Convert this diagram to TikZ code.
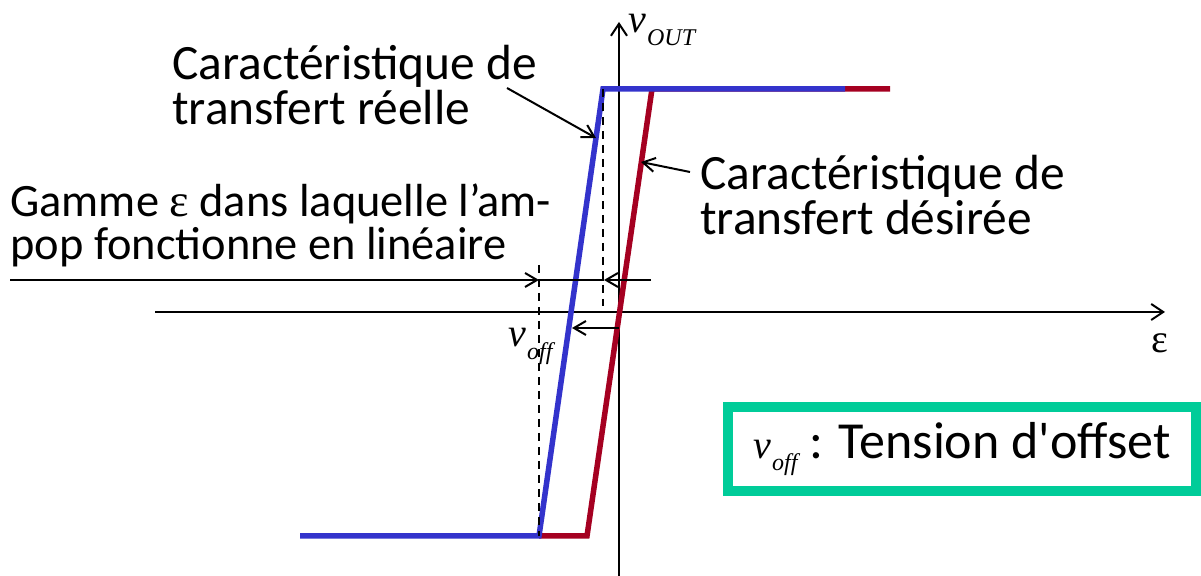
\documentclass[tikz,border=0pt]{standalone}
\usepackage{fontspec}
\setmainfont{Carlito}[Ligatures=TeXOff]
\newfontfamily\tnr{Liberation Serif}
\usepackage{tikz}
\usetikzlibrary{arrows.meta, positioning}
\definecolor{realblue}{HTML}{3333CC}
\definecolor{wantred}{HTML}{A50021}
\definecolor{boxgreen}{HTML}{00CC99}
\newcommand{\vlab}[1]{{\tnr\itshape v\kern0.5pt\raisebox{-0.32em}{\fontsize{12}{12}\selectfont #1}}}

\begin{document}
\begin{tikzpicture}[
      x=0.5pt, y=-0.5pt,
      txt/.style={
          font=\fontsize{24.7}{22.5}\selectfont,
          align=left,
          inner sep=0pt,
          anchor=north west
      },
      symb/.style={font=\fontsize{20}{20}\selectfont, inner sep=0pt},
      axis/.style={-{Straight Barb[length=6pt, width=8pt]}, line width=1pt},
      arrow/.style={-{Straight Barb[length=6pt, width=7pt]}, line width=1pt},
      guide/.style={dash pattern=on 4pt off 3pt, line width=1pt},
      curve/.style={line width=2.75pt, line join=miter}
  ]
  \useasboundingbox (0,0) rectangle (1201,576);

  % ══════════════════════════════
  % AXES
  % ══════════════════════════════
  \coordinate (ybot) at (619,576);
  \coordinate (ytop) at (619,22);
  \coordinate (xleft) at (155,312);
  \coordinate (xright) at (1165,312);

  \draw[axis] (ybot) -- (ytop);
  \draw[axis] (xleft) -- (xright);

  \node[symb, anchor=base west] (vout) at (628,33) {\vlab{OUT}};
  \node[symb] (eps) at (1160,343) {\tnr ε};

  % ══════════════════════════════
  % CARACTÉRISTIQUES
  % ══════════════════════════════
  \coordinate (rlow) at (539,536);
  \coordinate (rknee) at (587,536);
  \coordinate (rtop) at (652,89);
  \coordinate (rend) at (890,89);

  \coordinate (blow) at (300,536);
  \coordinate (bknee) at (539,536);
  \coordinate (btop) at (603,89);
  \coordinate (bend) at (845,89);

  \draw[curve, wantred] (rlow) -- (rknee) -- (rtop) -- (rend);
  \draw[curve, realblue] (blow) -- (bknee) -- (btop) -- (bend);

  % ══════════════════════════════
  % REPÈRES POINTILLÉS
  % ══════════════════════════════
  \coordinate (dlow) at (539,265);
  \coordinate (dhigh) at (603,306);

  \draw[guide] (dlow) -- (bknee);
  \draw[guide] (btop) -- (dhigh);

  % ══════════════════════════════
  % GAMME LINÉAIRE
  % ══════════════════════════════
  \coordinate (gleft) at (10,280);
  \coordinate (ga) at (539,280);
  \coordinate (gb) at (604,280);
  \coordinate (gright) at (651,280);

  \draw[arrow] (gleft) -- (ga);
  \draw[line width=1pt] (ga) -- (gb);
  \draw[arrow] (gright) -- (gb);

  % ══════════════════════════════
  % TENSION D'OFFSET
  % ══════════════════════════════
  \coordinate (oa) at (619,328);
  \coordinate (ob) at (572,328);
  \draw[arrow] (oa) -- (ob);

  \node[symb, anchor=base west] (voff) at (508,347) {\vlab{off}};

  % ══════════════════════════════
  % TEXTES
  % ══════════════════════════════
  \node[txt] (reelle) at (172,45)
      {Caractéristique de\\transfert réelle};

  \node[txt] (desiree) at (700,155)
      {Caractéristique de\\transfert désirée};

  \node[txt, font=\fontsize{23.2}{21.5}\selectfont] (gamme) at (10,183)
      {Gamme {\tnr ε} dans laquelle l’am-\\pop fonctionne en linéaire};

  \coordinate (preel) at (507,88);
  \coordinate (pblue) at (596,138);
  \coordinate (pdes) at (690,172);
  \coordinate (pred) at (641,162);

  \draw[arrow] (preel) -- (pblue);
  \draw[arrow] (pdes) -- (pred);

  % ══════════════════════════════
  % LÉGENDE
  % ══════════════════════════════
  \node[draw=boxgreen, line width=5pt, minimum width=234pt,
        minimum height=42pt, inner sep=0pt] (legend) at (962,449)
      {\fontsize{20}{20}\selectfont\vlab{off}\fontsize{26}{26}\selectfont{} : Tension d'offset};

  \end{tikzpicture}
\end{document}
